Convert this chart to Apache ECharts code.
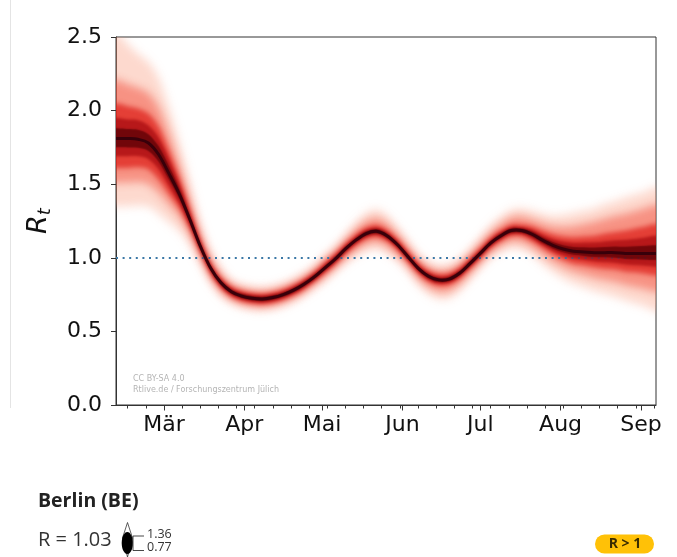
<!DOCTYPE html>
<html>
<head>
<meta charset="utf-8">
<title>Berlin (BE) – R_t</title>
<script src="https://cdn.jsdelivr.net/npm/echarts@6/dist/echarts.min.js"></script>
<style>
  html, body { margin: 0; padding: 0; background: #fff; }
  #chart { width: 677px; height: 557px; }
</style>
</head>
<body>
<div id="chart"></div>
<script>
// Days are counted from 1 March (day 0); negative days fall in February.
const days = [-19, -14, -10, -6, -2, 2, 6, 10, 14, 18, 22, 26, 30, 34, 38, 42, 46, 50, 54, 58,
  62, 66, 70, 74, 78, 82, 86, 90, 94, 98, 102, 106, 110, 114, 118, 122, 126, 130, 134, 138,
  142, 146, 150, 154, 158, 162, 166, 170, 174, 178, 182, 186, 190];

// Median reproduction number
const median = [1.81, 1.81, 1.805, 1.78, 1.70, 1.57, 1.43, 1.26, 1.08, 0.93, 0.83, 0.77, 0.74, 0.725, 0.72, 0.73, 0.75, 0.78, 0.82, 0.87,
  0.93, 0.99, 1.06, 1.12, 1.165, 1.18, 1.15, 1.09, 1.01, 0.93, 0.875, 0.85, 0.855, 0.895, 0.96, 1.03, 1.10, 1.15, 1.185, 1.185,
  1.16, 1.12, 1.085, 1.06, 1.045, 1.04, 1.035, 1.035, 1.035, 1.03, 1.03, 1.03, 1.03];

// Credible-interval half widths below / above the median, widest level first
const band1Down = [.46, .46, .45, .43, .40, .33, .25, .17, .12, .10, .09, .08, .08, .08, .08, .08, .08, .08, .08, .08,
  .09, .09, .10, .11, .12, .12, .12, .11, .10, .11, .12, .13, .13, .12, .11, .10, .10, .11, .12, .13,
  .14, .16, .18, .20, .22, .24, .26, .28, .30, .32, .34, .36, .39];
const band1Up = [.72, .64, .58, .55, .52, .45, .35, .25, .16, .12, .10, .08, .08, .08, .08, .08, .08, .08, .08, .08,
  .09, .09, .10, .12, .14, .15, .14, .12, .11, .10, .10, .10, .10, .10, .10, .11, .12, .13, .14, .15,
  .16, .18, .20, .23, .26, .28, .30, .33, .35, .38, .40, .42, .45];

const band2Down = [.30, .30, .29, .28, .26, .21, .15, .10, .075, .065, .06, .055, .055, .055, .055, .055, .055, .055, .055, .055,
  .06, .06, .065, .07, .075, .075, .075, .07, .065, .07, .075, .08, .08, .075, .07, .065, .065, .07, .075, .08,
  .09, .10, .11, .125, .14, .155, .17, .185, .20, .215, .23, .245, .26];
const band2Up = [.40, .37, .35, .34, .32, .27, .20, .14, .09, .07, .06, .055, .055, .055, .055, .055, .055, .055, .055, .055,
  .06, .06, .065, .075, .085, .09, .085, .075, .07, .065, .065, .065, .065, .065, .065, .07, .075, .08, .09, .095,
  .10, .115, .13, .15, .17, .19, .21, .23, .25, .27, .29, .31, .33];

const band3Down = [.20, .20, .19, .18, .17, .14, .10, .07, .05, .045, .04, .038, .038, .038, .038, .038, .038, .038, .038, .038,
  .04, .04, .04, .04, .04, .04, .04, .04, .04, .04, .04, .04, .04, .04, .04, .04, .04, .04, .04, .04,
  .05, .055, .065, .075, .085, .09, .10, .11, .115, .125, .13, .14, .15];
const band3Up = [.24, .22, .21, .20, .19, .16, .12, .085, .06, .045, .04, .038, .038, .038, .038, .038, .038, .038, .038, .038,
  .042, .042, .042, .042, .042, .042, .042, .042, .042, .042, .042, .042, .042, .042, .042, .042, .042, .042, .042, .042,
  .055, .065, .075, .085, .095, .105, .115, .13, .14, .155, .17, .185, .20];

const band4Down = [.12, .12, .115, .11, .10, .085, .065, .045, .032, .028, .026, .025, .025, .025, .025, .025, .025, .025, .025, .025,
  .025, .025, .025, .025, .025, .025, .025, .025, .025, .025, .025, .025, .025, .025, .025, .025, .025, .025, .025, .025,
  .03, .035, .04, .045, .05, .055, .06, .065, .07, .075, .08, .085, .09];
const band4Up = [.14, .13, .13, .12, .115, .10, .075, .05, .035, .028, .026, .025, .025, .025, .025, .025, .025, .025, .025, .025,
  .025, .025, .025, .025, .025, .025, .025, .025, .025, .025, .025, .025, .025, .025, .025, .025, .025, .025, .025, .025,
  .032, .037, .043, .05, .057, .064, .07, .078, .085, .093, .10, .11, .12];

const band5Down = [.06, .06, .058, .055, .05, .042, .033, .024, .018, .015, .015, .015, .015, .015, .015, .015, .015, .015, .015, .015,
  .015, .015, .015, .015, .015, .015, .015, .015, .015, .015, .015, .015, .015, .015, .015, .015, .015, .015, .015, .015,
  .017, .019, .021, .023, .025, .027, .03, .032, .035, .038, .04, .043, .045];
const band5Up = [.07, .065, .065, .06, .057, .05, .038, .026, .019, .015, .015, .015, .015, .015, .015, .015, .015, .015, .015, .015,
  .015, .015, .015, .015, .015, .015, .015, .015, .015, .015, .015, .015, .015, .015, .015, .015, .015, .015, .015, .015,
  .018, .02, .023, .026, .029, .032, .035, .038, .042, .045, .048, .052, .055];

// Axis ticks and labels
const monthStarts = [0, 31, 61, 92, 122, 153, 184];
const monthLabels = ['Mär', 'Apr', 'Mai', 'Jun', 'Jul', 'Aug', 'Sep'];
const weekTicks = [-14, -7, 7, 14, 21, 28, 35, 42, 49, 56, 63, 70, 77, 84, 91, 98, 105, 112, 119,
  126, 133, 140, 147, 154, 161, 168, 175, 182, 189];
const xMin = -18.5, xMax = 189.8;
const threshold = 1.0;

// Headline numbers: latest median and the band2 interval at the last day
const last = median.length - 1;
const rNow = median[last];
const rLow = median[last] - band2Down[last];
const rHigh = median[last] + band2Up[last];

// Each level is painted as a soft (blurred) shape so the fan fades like a density
const bandLevels = [
  { down: band1Down, up: band1Up, color: 'rgba(250,150,120,0.36)', blur: 10 },
  { down: band2Down, up: band2Up, color: 'rgba(240,70,50,0.48)', blur: 8 },
  { down: band3Down, up: band3Up, color: 'rgba(220,30,25,0.72)', blur: 5 },
  { down: band4Down, up: band4Up, color: 'rgba(165,10,15,0.72)', blur: 3 },
  { down: band5Down, up: band5Up, color: 'rgba(90,0,5,0.75)', blur: 1.5 }
];
const SHIFT = 3000; // the shape is painted off-canvas; only its shadow lands on the plot

// Catmull-Rom spline through pixel points, written as SVG path commands
function splinePath(pts, moveFirst) {
  let s = (moveFirst ? 'M' : 'L') + pts[0][0] + ',' + pts[0][1];
  for (let i = 0; i < pts.length - 1; i++) {
    const p0 = pts[Math.max(i - 1, 0)], p1 = pts[i], p2 = pts[i + 1], p3 = pts[Math.min(i + 2, pts.length - 1)];
    const c1 = [p1[0] + (p2[0] - p0[0]) / 6, p1[1] + (p2[1] - p0[1]) / 6];
    const c2 = [p2[0] - (p3[0] - p1[0]) / 6, p2[1] - (p3[1] - p1[1]) / 6];
    s += 'C' + c1[0] + ',' + c1[1] + ' ' + c2[0] + ',' + c2[1] + ' ' + p2[0] + ',' + p2[1];
  }
  return s;
}

// carry the end values flat past the plot edges so the blur does not fade them
function padEnds(pts) {
  const a = pts[0], b = pts[pts.length - 1];
  return [[a[0] - 40, a[1]]].concat(pts, [[b[0] + 40, b[1]]]);
}

function clipRect(params) {
  const cs = params.coordSys;
  return { type: 'rect', shape: { x: cs.x, y: cs.y, width: cs.width, height: cs.height } };
}

const series = [];
bandLevels.forEach((lvl, k) => {
  series.push({
    type: 'custom', silent: true, z: 2 + k, clip: true,
    data: [[days[0], median[0]]],
    renderItem: (params, api) => {
      const upper = padEnds(days.map((d, i) => api.coord([d, median[i] + lvl.up[i]])));
      const lower = padEnds(days.map((d, i) => api.coord([d, median[i] - lvl.down[i]]))).reverse();
      return {
        type: 'group', clipPath: clipRect(params),
        children: [{
          type: 'path', x: -SHIFT,
          shape: { pathData: splinePath(upper, true) + splinePath(lower, false) + 'Z' },
          style: { fill: '#000', shadowBlur: lvl.blur, shadowColor: lvl.color, shadowOffsetX: SHIFT, shadowOffsetY: 0 }
        }]
      };
    }
  });
});
series.push({
  type: 'custom', silent: true, z: 10, clip: true,
  data: [[days[0], median[0]]],
  renderItem: (params, api) => {
    const pts = days.map((d, i) => api.coord([d, median[i]]));
    return {
      type: 'group', clipPath: clipRect(params),
      children: [{
        type: 'path',
        shape: { pathData: splinePath(pts, true) },
        style: { fill: 'none', stroke: '#38000a', lineWidth: 3 }
      }]
    };
  }
});
series.push({
  type: 'line', data: [], z: 12, silent: true,
  markLine: {
    silent: true, symbol: 'none', label: { show: false },
    lineStyle: { color: '#3b78a6', width: 2, type: [2, 4.6] },
    data: [{ yAxis: threshold }]
  }
});

const tickFont = 'DejaVu Sans';
const gridBox = { left: 116, right: 21, top: 37, bottom: 152 };
const chart = echarts.init(document.getElementById('chart'), null, { renderer: 'canvas' });
chart.setOption({
  animation: false,
  backgroundColor: '#fff',
  grid: [
    Object.assign({ show: true, borderColor: '#333', borderWidth: 1, backgroundColor: 'transparent' }, gridBox),
    Object.assign({ show: false }, gridBox)
  ],
  xAxis: [{
    gridIndex: 0, type: 'value', min: xMin, max: xMax, position: 'bottom',
    axisLine: { show: true, onZero: false, lineStyle: { color: '#333', width: 1 } },
    axisTick: { show: true, customValues: monthStarts, length: 5.5, lineStyle: { color: '#333' } },
    axisLabel: {
      customValues: monthStarts, margin: 9, color: '#111', fontFamily: tickFont, fontSize: 22,
      formatter: v => monthLabels[monthStarts.indexOf(Math.round(v))] || ''
    },
    splitLine: { show: false }
  }, {
    // weekly minor ticks
    gridIndex: 1, type: 'value', min: xMin, max: xMax, position: 'bottom',
    axisLine: { show: false, onZero: false },
    axisTick: { show: true, customValues: weekTicks, length: 3.5, lineStyle: { color: '#333' } },
    axisLabel: { show: true, customValues: weekTicks, formatter: () => '' },
    splitLine: { show: false }
  }],
  yAxis: [{
    gridIndex: 0, type: 'value', min: 0, max: 2.5, interval: 0.5,
    axisLine: { show: true, onZero: false, lineStyle: { color: '#333', width: 1 } },
    axisTick: { show: true, length: 5, lineStyle: { color: '#333' } },
    axisLabel: { margin: 14, color: '#111', fontFamily: tickFont, fontSize: 22, formatter: v => v.toFixed(1) },
    splitLine: { show: false },
    name: '{r|R}{t|t}', nameLocation: 'middle', nameRotate: 90, nameGap: 62,
    nameTextStyle: {
      rich: {
        r: { fontFamily: tickFont, fontStyle: 'italic', fontSize: 27, color: '#111', lineHeight: 30 },
        t: { fontFamily: tickFont, fontStyle: 'italic', fontSize: 18, color: '#111', lineHeight: 30, verticalAlign: 'bottom' }
      }
    }
  }, {
    gridIndex: 1, type: 'value', min: 0, max: 2.5, show: false
  }],
  series: series,
  graphic: [
    { type: 'line', silent: true, shape: { x1: 10.5, y1: 0, x2: 10.5, y2: 408 }, style: { stroke: '#e4e4e4', lineWidth: 1 } },
    { type: 'text', left: 133, top: 375, silent: true, z: 20,
      style: { text: 'CC BY-SA 4.0', font: '8px "DejaVu Sans"', fill: '#b4b4b4' } },
    { type: 'text', left: 133, top: 386, silent: true, z: 20,
      style: { text: 'Rtlive.de / Forschungszentrum Jülich', font: '8px "DejaVu Sans"', fill: '#b4b4b4' } },
    { type: 'text', left: 38, top: 491, silent: true,
      style: { text: 'Berlin (BE)', font: 'bold 19.5px "Open Sans"', fill: '#222' } },
    { type: 'text', left: 38, top: 530, silent: true,
      style: { text: 'R = ' + rNow.toFixed(2), font: '20px "Open Sans"', fill: '#333' } },
    // interval glyph next to the headline value
    { type: 'polygon', silent: true,
      shape: { points: [[127.5, 522.5], [122.5, 538], [127.5, 557], [132.5, 538]] },
      style: { fill: 'none', stroke: '#333', lineWidth: 0.8 } },
    { type: 'ellipse', silent: true, shape: { cx: 127.3, cy: 543, rx: 5.6, ry: 11 }, style: { fill: '#000' } },
    { type: 'polyline', silent: true,
      shape: { points: [[144, 536], [133, 536], [133, 550.5], [144, 550.5]] },
      style: { stroke: '#333', lineWidth: 0.9, fill: 'none' } },
    { type: 'text', left: 147, top: 528, silent: true,
      style: { text: rHigh.toFixed(2), font: '12.5px "Open Sans"', fill: '#333' } },
    { type: 'text', left: 147, top: 541, silent: true,
      style: { text: rLow.toFixed(2), font: '12.5px "Open Sans"', fill: '#333' } },
    { type: 'rect', silent: true, shape: { x: 595, y: 534.5, width: 59, height: 19, r: 9.5 }, style: { fill: '#FFC107' } },
    { type: 'text', silent: true, x: 625, y: 544,
      style: { text: 'R > 1', font: 'bold 14px "Open Sans"', fill: '#3a2c00', align: 'center', verticalAlign: 'middle' } }
  ]
});
</script>
</body>
</html>
